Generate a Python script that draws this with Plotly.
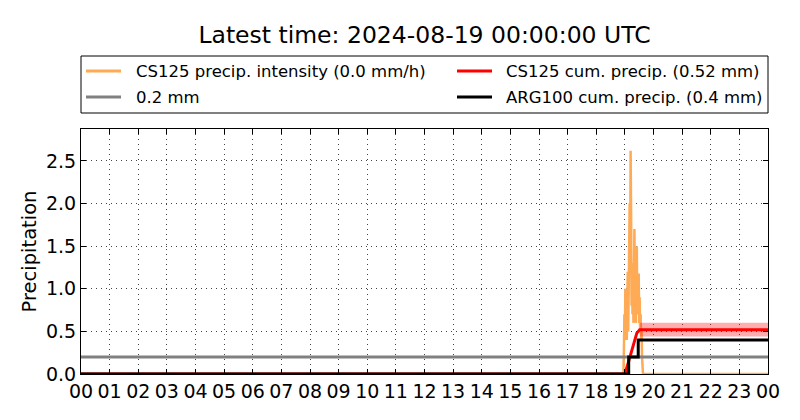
import plotly.graph_objects as go

# ---- data ----
hour_labels = ["00","01","02","03","04","05","06","07","08","09","10","11",
               "12","13","14","15","16","17","18","19","20","21","22","23","00"]

int_times = ["00:00","18:56","18:57","18:58","18:59","19:00","19:01","19:02","19:03","19:04",
             "19:05","19:06","19:07","19:08","19:09","19:10","19:11","19:12","19:13","19:14",
             "19:15","19:16","19:17","19:18","19:19","19:20","19:21","19:22","19:23","19:24",
             "19:25","19:26","19:27","19:28","19:29","19:30","19:31","19:32","19:33","19:34",
             "19:35","19:36","19:37","19:38","24:00"]
int_values = [0.0,0.0,0.0,0.3,0.7,0.4,1.0,0.6,0.9,0.4,
              0.8,1.2,0.5,1.4,0.9,2.0,1.3,2.62,1.9,0.8,
              1.3,0.7,1.1,0.6,1.0,1.7,0.7,1.2,0.6,0.9,
              1.5,0.8,1.0,0.7,1.18,0.6,0.9,0.5,0.7,0.4,
              0.5,0.2,0.0,0.0,0.0]

thr_times = ["00:00","24:00"]
thr_values = [0.2, 0.2]

cs_times = ["00:00","19:00","19:07","19:17","19:25","19:31","24:00"]
cs_values = [0.0,0.0,0.13,0.32,0.48,0.52,0.52]

band_times = ["19:32","24:00"]
band_low = [0.44,0.44]
band_high = [0.60,0.60]

arg_times = ["00:00","19:08","19:28","24:00"]
arg_values = [0.0,0.2,0.4,0.4]

legend_labels = ["CS125 precip. intensity (0.0 mm/h)", "CS125 cum. precip. (0.52 mm)",
                 "0.2 mm", "ARG100 cum. precip. (0.4 mm)"]
legend_colors = ["#ffaa55", "red", "gray", "black"]

def hrs(ts):
    return [int(t.split(":")[0]) + int(t.split(":")[1]) / 60 for t in ts]

font_family = "DejaVu Sans"

fig = go.Figure()
fig.add_trace(go.Scatter(x=hrs(int_times), y=int_values, mode="lines",
                         line=dict(color=legend_colors[0], width=2.5),
                         name=legend_labels[0]))
fig.add_trace(go.Scatter(x=hrs(band_times), y=band_low, mode="lines",
                         line=dict(width=0), showlegend=False, hoverinfo="skip"))
fig.add_trace(go.Scatter(x=hrs(band_times), y=band_high, mode="lines",
                         line=dict(width=0), fill="tonexty",
                         fillcolor="rgba(255,0,0,0.32)", showlegend=False, hoverinfo="skip"))
fig.add_trace(go.Scatter(x=hrs(cs_times), y=cs_values, mode="lines",
                         line=dict(color=legend_colors[1], width=3),
                         name=legend_labels[1]))
fig.add_trace(go.Scatter(x=hrs(thr_times), y=thr_values, mode="lines",
                         line=dict(color=legend_colors[2], width=3), name=legend_labels[2]))
fig.add_trace(go.Scatter(x=hrs(arg_times), y=arg_values, mode="lines",
                         line=dict(color=legend_colors[3], width=3, shape="hv"),
                         name=legend_labels[3]))

axis_common = dict(showline=True, linecolor="black", linewidth=1.2, mirror="allticks",
                   ticks="inside", ticklen=5, tickcolor="black", tickwidth=1,
                   showgrid=True, gridcolor="#444444", griddash="1px,4px", gridwidth=1,
                   zeroline=False, tickfont=dict(size=19, color="black", family=font_family))

fig.update_xaxes(range=[0, 24], tickvals=list(range(25)), ticktext=hour_labels, **axis_common)
fig.update_yaxes(range=[0, 2.875], tickvals=[0, 0.5, 1.0, 1.5, 2.0, 2.5], tickformat=".1f",
                 title=dict(text="Precipitation", font=dict(size=19.5, color="black", family=font_family),
                            standoff=4),
                 **axis_common)

# ---- manual legend (matplotlib-style box) ----
PL, PR, PT, PB = 81, 768, 129, 374
def px_x(px):
    return (px - PL) / (PR - PL)
def px_y(py):
    return (PB - py) / (PB - PT)

shapes = [dict(type="rect", xref="paper", yref="paper",
               x0=px_x(81), x1=px_x(768), y0=px_y(113), y1=px_y(56),
               line=dict(color="black", width=1), fillcolor="white", layer="above")]
annotations = []
rows = [71, 97]
cols = [(86, 121, 134), (457, 492, 504)]
order = [(0, 0, 0), (1, 0, 1), (2, 1, 0), (3, 1, 1)]  # (entry, row, col)
for idx, r, c in order:
    x0, x1, xt = cols[c]
    yy = px_y(rows[r])
    shapes.append(dict(type="line", xref="paper", yref="paper",
                       x0=px_x(x0), x1=px_x(x1), y0=yy, y1=yy,
                       line=dict(color=legend_colors[idx], width=3)))
    annotations.append(dict(text=legend_labels[idx], xref="paper", yref="paper",
                            x=px_x(xt), y=yy, xanchor="left", yanchor="middle",
                            showarrow=False,
                            font=dict(size=16.5, color="black", family=font_family)))

fig.update_layout(
    width=800, height=420,
    margin=dict(l=PL, r=800 - PR, t=PT, b=420 - PB, autoexpand=False),
    paper_bgcolor="white", plot_bgcolor="white",
    font=dict(family=font_family, color="black"),
    title=dict(text="Latest time: 2024-08-19 00:00:00 UTC", x=0.5, xref="paper",
               y=0.917, yanchor="middle", font=dict(size=23.5, color="black", family=font_family)),
    showlegend=False,
    shapes=shapes,
    annotations=annotations,
)

fig.write_html("out.html", config={"displayModeBar": False},
               post_script="document.body.style.margin='0';")
